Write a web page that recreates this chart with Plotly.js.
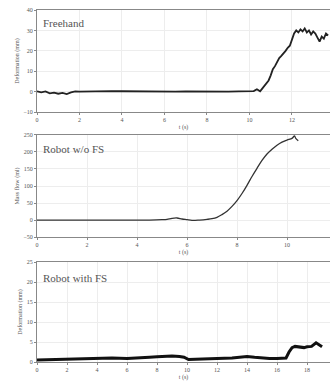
<!DOCTYPE html>
<html><head><meta charset="utf-8">
<script src="https://cdn.plot.ly/plotly-3.0.1.min.js"></script>
<style>html,body{margin:0;padding:0;background:#fff}#c{width:330px;height:382px}</style>
</head><body><div id="c"></div>
<script>
// Panel 1: Freehand
var t1 = [0,0.2,0.4,0.6,0.8,1.0,1.2,1.4,1.6,1.8,2.0,2.5,3,3.5,4,4.5,5,5.5,6,6.5,7,7.5,8,8.5,9,9.5,10,10.2,10.35,10.5,10.6,10.7,10.8,10.9,11.0,11.1,11.2,11.3,11.4,11.5,11.6,11.7,11.8,11.9,12.0,12.1,12.2,12.3,12.4,12.5,12.6,12.7,12.8,12.9,13.0,13.1,13.2,13.3,13.4,13.5,13.6,13.7];
var v1 = [0.2,-0.3,0.1,-0.8,-0.5,-1.0,-0.6,-1.2,-0.4,0.1,0.0,0.2,0.1,0.3,0.2,0.1,0.0,0.1,-0.1,0.0,0.1,0.0,0.0,-0.1,0.0,0.1,0.0,0.3,1.2,0.2,1.5,3.0,4.2,5.5,8.0,11.0,12.5,14.5,16.5,17.5,18.5,20.0,21.5,22.5,25.5,28.5,30.0,29.0,30.5,29.5,31.0,29.0,30.0,28.0,29.5,28.5,26.5,24.5,27.0,26.0,28.5,27.5];
// Panel 2: Robot w/o FS
var t2 = [0,0.5,1,1.5,2,2.5,3,3.5,4,4.5,5,5.2,5.4,5.6,5.8,6.0,6.2,6.5,6.8,7.0,7.2,7.4,7.6,7.8,8.0,8.2,8.4,8.6,8.8,9.0,9.2,9.4,9.6,9.8,10.0,10.2,10.3,10.35,10.45];
var v2 = [0,0,0,0,0,0,0,0,0,0,1,2,5,6,3,1,-1,0,2,4,8,16,26,40,57,78,102,128,152,175,194,208,220,229,235,240,247,240,233];
// Panel 3: Robot with FS
var t3 = [0,1,2,3,4,5,6,7,7.5,8,8.5,9,9.5,9.8,10.1,10.5,11,12,13,13.5,14,14.5,15,15.5,16,16.3,16.6,16.8,17.0,17.2,17.5,17.8,18.0,18.3,18.6,18.8,19.0];
var v3 = [0.5,0.6,0.8,0.9,0.9,1.0,0.9,1.0,1.2,1.3,1.4,1.5,1.4,1.2,0.6,0.7,0.8,0.9,1.0,1.2,1.4,1.2,1.0,0.9,0.9,0.9,1.0,2.5,3.6,3.9,3.7,3.6,3.8,3.9,4.8,4.3,3.8];

var labels = ["Freehand","Robot w/o FS","Robot with FS"];
var ytitles = ["Deformation (mm)","Mass flow (ml)","Deformation (mm)"];
var xtitle = "t (s)";

var F = "Liberation Serif, Times New Roman, serif";
var traces = [
  {x:t1,y:v1,xaxis:'x',yaxis:'y',mode:'lines',line:{color:'#222',width:1.8},hoverinfo:'none'},
  {x:t2,y:v2,xaxis:'x2',yaxis:'y2',mode:'lines',line:{color:'#333',width:1.3,shape:'spline'},hoverinfo:'none'},
  {x:t3,y:v3,xaxis:'x3',yaxis:'y3',mode:'lines',line:{color:'#111',width:3},hoverinfo:'none'}
];
function xa(anchor, rng){return {anchor:anchor,domain:[0,1],range:rng,dtick:2,tick0:0,showgrid:true,gridcolor:'#ededed',zeroline:false,
  showline:true,mirror:true,linecolor:'#888',linewidth:1,ticks:'outside',ticklen:2,tickcolor:'#888',
  tickfont:{family:F,size:6,color:'#555'},title:{text:xtitle,font:{family:F,size:6,color:'#555'},standoff:2}};}
function ya(anchor, dom, rng, dt, i){return {anchor:anchor,domain:dom,range:rng,dtick:dt,showgrid:true,gridcolor:'#ededed',zeroline:false,
  showline:true,linecolor:'#888',linewidth:1,ticks:'outside',ticklen:2,tickcolor:'#888',
  tickfont:{family:F,size:6,color:'#555'},title:{text:ytitles[i],font:{family:F,size:6,color:'#555'},standoff:3}};}
var layout = {
  width:330,height:382,margin:{l:37,r:0,t:10,b:20},paper_bgcolor:'#fff',plot_bgcolor:'#fff',showlegend:false,
  xaxis:xa('y',[0,13.79]),
  yaxis:ya('x',[0.710,1],[-10,40],10,0),
  xaxis2:xa('y2',[0,11.72]),
  yaxis2:ya('x2',[0.355,0.645],[-50,250],50,1),
  xaxis3:xa('y3',[0,19.53]),
  yaxis3:ya('x3',[0,0.284],[0,25],5,2),
  annotations:[
    {text:labels[0],xref:'x',yref:'y',x:0.2,y:33.5,xanchor:'left',yanchor:'middle',showarrow:false,font:{family:F,size:11,color:'#555'}},
    {text:labels[1],xref:'x2',yref:'y2',x:0.15,y:208,xanchor:'left',yanchor:'middle',showarrow:false,font:{family:F,size:11,color:'#555'}},
    {text:labels[2],xref:'x3',yref:'y3',x:0.25,y:21,xanchor:'left',yanchor:'middle',showarrow:false,font:{family:F,size:11,color:'#555'}}
  ]
};
Plotly.newPlot('c',traces,layout,{staticPlot:true,displayModeBar:false});
</script></body></html>
